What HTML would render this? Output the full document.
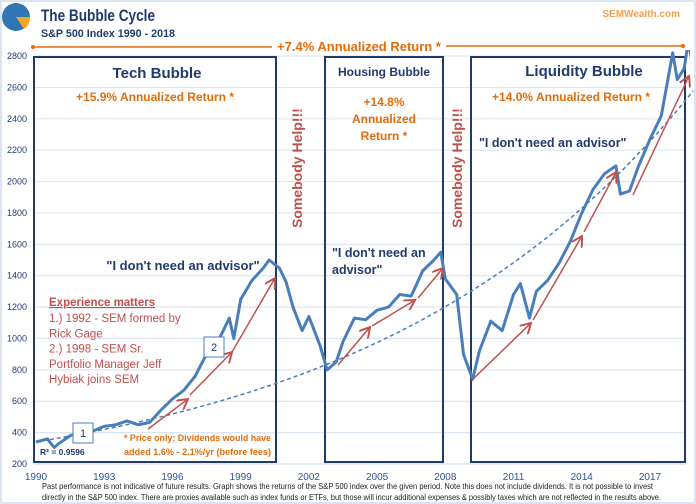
<!DOCTYPE html>
<html><head><meta charset="utf-8"><style>
body{margin:0;background:#fff;font-family:"Liberation Sans",sans-serif}
#wrap{width:696px;height:504px;position:relative;overflow:hidden}
svg text{font-family:"Liberation Sans",sans-serif}
</style></head><body>
<div id="wrap">
<svg id="c" width="696" height="504"></svg>
</div>
<script>
const years=[1990,1990.5,1990.8,1991,1991.5,1992,1992.5,1993,1993.5,1994,1994.5,1995,1995.5,1996,1996.5,1997,1997.5,1998,1998.5,1998.7,1999,1999.5,2000,2000.25,2000.7,2001,2001.3,2001.7,2002,2002.5,2002.8,2003.2,2003.5,2004,2004.5,2005,2005.5,2006,2006.5,2007,2007.5,2007.8,2008,2008.5,2008.8,2009.2,2009.5,2010,2010.5,2011,2011.3,2011.7,2012,2012.5,2013,2013.5,2014,2014.5,2015,2015.5,2015.7,2016.1,2016.5,2017,2017.5,2018,2018.2,2018.5,2018.7,2018.9];
const prices=[340,360,305,330,380,410,410,440,450,475,450,465,545,615,670,760,900,980,1130,1000,1250,1370,1450,1500,1450,1360,1200,1050,1140,950,800,850,980,1130,1120,1180,1200,1280,1270,1430,1500,1550,1380,1280,900,740,920,1110,1050,1280,1350,1130,1300,1370,1480,1620,1800,1950,2050,2100,1920,1940,2100,2270,2420,2820,2650,2720,2900,2700];
const yTicks=[200,400,600,800,1000,1200,1400,1600,1800,2000,2200,2400,2600,2800];
const xTicks=[1990,1993,1996,1999,2002,2005,2008,2011,2014,2017];
const trendStart=341, trendRate=0.0700;
const arrowStarts=[[1994.93,423],[1996.77,640],[1998.62,914],[2003.28,831],[2004.78,1080],[2006.8,1258],[2009.17,735],[2011.86,1118],[2014.1,1679],[2016.25,1915]];
const arrowEnds=[[1996.68,614],[1998.62,914],[2000.51,1385],[2004.69,1073],[2006.67,1245],[2007.9,1449],[2011.77,1099],[2014.01,1653],[2015.51,2061],[2018.72,2673]];

const X=y=>36+(y-1990)*22.74;
const Y=v=>464-(v-200)*0.1569;
const svg=document.getElementById('c');
const NS='http://www.w3.org/2000/svg';
function mk(t,a,txt){const e=document.createElementNS(NS,t);for(const k in a)e.setAttribute(k,a[k]);if(txt!=null)e.textContent=txt;svg.appendChild(e);return e;}

let e;
e=mk('rect',{x:1,y:1,width:694,height:502,fill:'#fff',stroke:'#dbe5f1','stroke-width':2});


e=mk('defs',{});
e.innerHTML='<marker id="ah" markerWidth="8" markerHeight="8" refX="7" refY="4" orient="auto"><path d="M0,0 L7,4 L0,8" fill="none" stroke="#c0504d" stroke-width="1.3"/></marker>';



yTicks.forEach(v=>{
 e=mk('line',{x1:34,x2:686,y1:Y(v),y2:Y(v),stroke:'#dce6f2','stroke-width':1.2});
 
 
 e=mk('text',{x:27,y:Y(v)+3,'text-anchor':'end','font-size':9,fill:'#1f3b6e'},v);
 
 
});
xTicks.forEach(v=>{
 e=mk('text',{x:X(v),y:480,'text-anchor':'middle','font-size':10,fill:'#2e5597'},v);
 
 
});
e=mk('line',{x1:34,x2:686,y1:464,y2:464,stroke:'#d0dcea','stroke-width':1});



[[34,57,242,405,'tech-bubble-box'],[325,57,118,405,'housing-bubble-box'],[471,57,214,405,'liquidity-bubble-box']].forEach(b=>{
 e=mk('rect',{x:b[0],y:b[1],width:b[2],height:b[3],fill:'none',stroke:'#1f3b6e','stroke-width':2});
 
 
});

let tp='';
for(let y=1990;y<=2018.95;y+=0.1){const v=trendStart*Math.exp(trendRate*(y-1990));tp+=(tp?'L':'M')+X(y).toFixed(1)+','+Y(v).toFixed(1);}
e=mk('path',{d:tp,fill:'none',stroke:'#4a7ebb','stroke-width':1.5,'stroke-dasharray':'4,3'});



e=mk('clipPath',{id:'cp'});e.innerHTML='<rect x="30" y="50" width="660" height="420"/>';


let pp=years.map((y,i)=>(i?'L':'M')+X(y).toFixed(1)+','+Y(prices[i]).toFixed(1)).join('');
e=mk('path',{d:pp,fill:'none',stroke:'#4a7ebb','stroke-width':3,'stroke-linejoin':'round','clip-path':'url(#cp)'});



arrowStarts.forEach((s,i)=>{
 e=mk('line',{x1:X(s[0]),y1:Y(s[1]),x2:X(arrowEnds[i][0]),y2:Y(arrowEnds[i][1]),stroke:'#c0504d','stroke-width':1.5,'marker-end':'url(#ah)'});
 
 
});

function T(x,y,s,txt,o,name){o=o||{};const a={x:x,y:y,'font-size':s,'font-weight':'bold',fill:o.fill||'#1f3b6e','text-anchor':o.anchor||'start'};if(o.tr)a.transform=o.tr;if(o.deco)a['text-decoration']=o.deco;if(o.w)a['font-weight']=o.w;if(o.len){a.textLength=o.len;a.lengthAdjust='spacingAndGlyphs';}const t=mk('text',a,txt);return t;}
const OR='#e46c0a',RD='#c0504d';
e=mk('circle',{cx:16,cy:17,r:14,fill:'#2e75b6'});


e=mk('path',{d:'M16,17 L30,17 A14,14 0 0 1 24,29 Z',fill:'#f5a623'});


T(41,21,17,'The Bubble Cycle',{len:114},'chart-title');
T(41,37,11,'S&P 500 Index 1990 - 2018',{len:134},'chart-subtitle');
T(680,17,10,'SEMWealth.com',{fill:'#f5a04a',anchor:'end'},'brand-link');
e=mk('line',{x1:33,x2:272,y1:47,y2:47,stroke:OR,'stroke-width':1.5});


e=mk('line',{x1:446,x2:683,y1:46,y2:46,stroke:OR,'stroke-width':1.5});


e=mk('circle',{cx:33,cy:47,r:2,fill:OR});


e=mk('circle',{cx:683,cy:46,r:2,fill:OR});


T(359,51,13,'+7.4% Annualized Return *',{fill:OR,anchor:'middle'},'overall-return-label');

T(157,78,15,'Tech Bubble',{anchor:'middle'},'tech-bubble-title');
T(155,101,12,'+15.9% Annualized Return *',{fill:OR,anchor:'middle'},'tech-return-label');
T(384,76,12,'Housing Bubble',{anchor:'middle'},'housing-bubble-title');
T(384,106,12,'+14.8%',{fill:OR,anchor:'middle'},'housing-return-label');
T(384,123,12,'Annualized',{fill:OR,anchor:'middle'},'housing-return-label');
T(384,140,12,'Return *',{fill:OR,anchor:'middle'},'housing-return-label');
T(584,76,15,'Liquidity Bubble',{anchor:'middle'},'liquidity-bubble-title');
T(571,101,12,'+14.0% Annualized Return *',{fill:OR,anchor:'middle'},'liquidity-return-label');
T(302,228,14,'Somebody Help!!!',{fill:RD,tr:'rotate(-90 302 228)'},'somebody-help-label-1');
T(462,228,14,'Somebody Help!!!',{fill:RD,tr:'rotate(-90 462 228)'},'somebody-help-label-2');
T(183,270,13,'"I don\'t need an advisor"',{anchor:'middle'},'tech-quote');
T(332,257,12.5,'"I don\'t need an',{},'housing-quote');
T(332,274,12.5,'advisor"',{},'housing-quote');
T(479,147,12.5,'"I don\'t need an advisor"',{},'liquidity-quote');
T(49,306,11.5,'Experience matters',{fill:RD,deco:'underline'},'experience-heading');
['1.) 1992 - SEM formed by','Rick Gage','2.) 1998 - SEM Sr.','Portfolio Manager Jeff','Hybiak joins SEM'].forEach((s,i)=>T(49,322+i*15.3,11.5,s,{fill:RD,w:'normal'},'experience-line'));
[[73,423,'1'],[204,337,'2']].forEach(b=>{
 e=mk('rect',{x:b[0],y:b[1],width:20,height:20,fill:'#fff',stroke:'#4a7ebb','stroke-width':1});
 
 
 T(b[0]+10,b[1]+14,11,b[2],{anchor:'middle',w:'normal'},'marker-label-'+b[2]);
});
T(40,455,8.5,'R² = 0.9596',{},'r-squared-label');
T(124,441,9.5,'* Price only; Dividends would have',{fill:OR,len:147},'footnote-price');
T(124,455,9.5,'added 1.6% - 2.1%/yr (before fees)',{fill:OR,len:147},'footnote-dividends');
T(42,489,8,'Past performance is not indicative of future results. Graph shows the returns of the S&P 500 index over the given period. Note this does not include dividends. It is not possible to invest',{fill:'#222',w:'normal',len:611},'disclaimer-line-1');
T(42,500,8,'directly in the S&P 500 index. There are proxies available such as index funds or ETFs, but those will incur additional expenses & possibly taxes which are not reflected in the results above.',{fill:'#222',w:'normal',len:619},'disclaimer-line-2');
</script>
</body></html>
